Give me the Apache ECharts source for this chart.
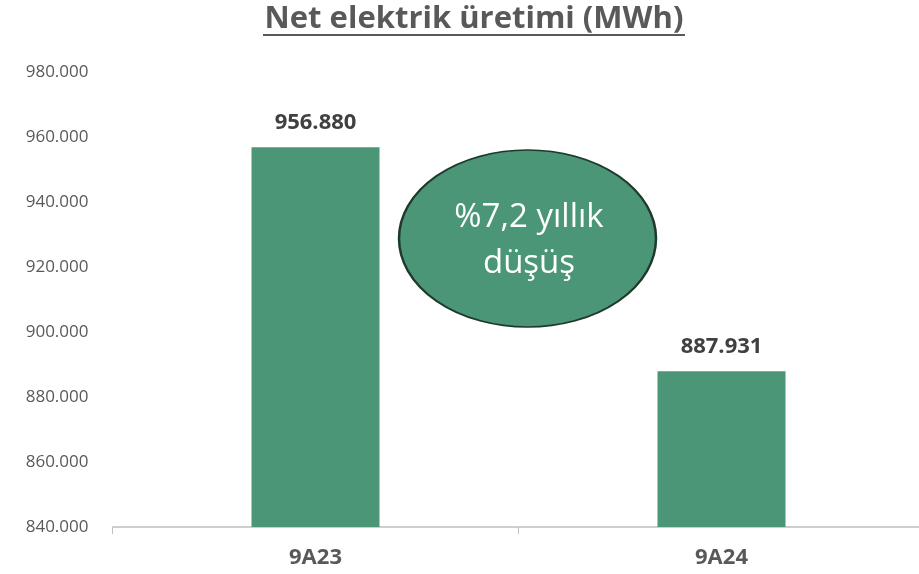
<!DOCTYPE html>
<html>
<head>
<meta charset="utf-8">
<script src="https://cdn.jsdelivr.net/npm/echarts@6/dist/echarts.min.js"></script>
<style>
  html, body { margin: 0; padding: 0; background: #fff; }
  #chart { width: 919px; height: 574px; }
</style>
</head>
<body>
<div id="chart"></div>
<script>
  // data
  var categories = ['9A23', '9A24'];
  var values = [956880, 887931];
  var axisMin = 840000;
  var axisMax = 980000;
  var axisStep = 20000;
  var titleText = 'Net elektrik üretimi (MWh)';
  var calloutLines = ['%7,2 yıllık', 'düşüş'];

  function dotted(n) {
    return String(Math.round(n)).replace(/\B(?=(\d{3})+(?!\d))/g, '.');
  }

  var font = '"Open Sans", "Noto Sans", sans-serif';
  var myChart = echarts.init(document.getElementById('chart'));

  var option = {
    animation: false,
    grid: { left: 112.5, right: -5.5, top: 72, bottom: 47, outerBoundsMode: 'none', containLabel: false },
    xAxis: {
      type: 'category',
      data: categories,
      axisLine: { lineStyle: { color: '#bfbfbf', width: 1.5 } },
      axisTick: { show: true, length: 7, lineStyle: { color: '#bfbfbf' } },
      axisLabel: { fontFamily: font, fontSize: 22, fontWeight: 'bold', color: '#595959', margin: 20 }
    },
    yAxis: {
      type: 'value',
      min: axisMin,
      max: axisMax,
      interval: axisStep,
      splitLine: { show: false },
      axisLine: { show: false },
      axisTick: { show: false },
      axisLabel: {
        fontFamily: font, fontSize: 17, color: '#595959', margin: 24,
        formatter: function (v) { return dotted(v); }
      }
    },
    series: [{
      type: 'bar',
      data: values,
      barWidth: 128,
      itemStyle: { color: '#4a9677' },
      label: {
        show: true,
        position: 'top',
        distance: 13,
        fontFamily: font, fontSize: 22, fontWeight: 'bold', color: '#404040',
        formatter: function (p) { return dotted(p.value); }
      }
    }],
    graphic: [
      {
        // title, underlined like the original
        type: 'text',
        x: 474, y: 19,
        style: {
          text: titleText,
          fontFamily: font, fontSize: 31, fontWeight: 'bold',
          fill: '#595959', align: 'center', verticalAlign: 'middle'
        }
      },
      {
        type: 'line',
        shape: { x1: 263, y1: 35, x2: 685, y2: 35 },
        style: { stroke: '#595959', lineWidth: 2 }
      },
      {
        type: 'circle',
        x: 527.5, y: 238.5,
        scaleY: 88.5 / 128.5,
        shape: { cx: 0, cy: 0, r: 128.5 },
        style: { fill: '#4a9677', stroke: '#1e3a2c', lineWidth: 2.5, strokeNoScale: true }
      },
      {
        type: 'text',
        x: 529, y: 241,
        style: {
          text: calloutLines.join('\n'),
          fontFamily: font, fontSize: 33, lineHeight: 46,
          fill: '#ffffff', align: 'center', verticalAlign: 'middle'
        }
      }
    ]
  };
  myChart.setOption(option);
</script>
</body>
</html>
